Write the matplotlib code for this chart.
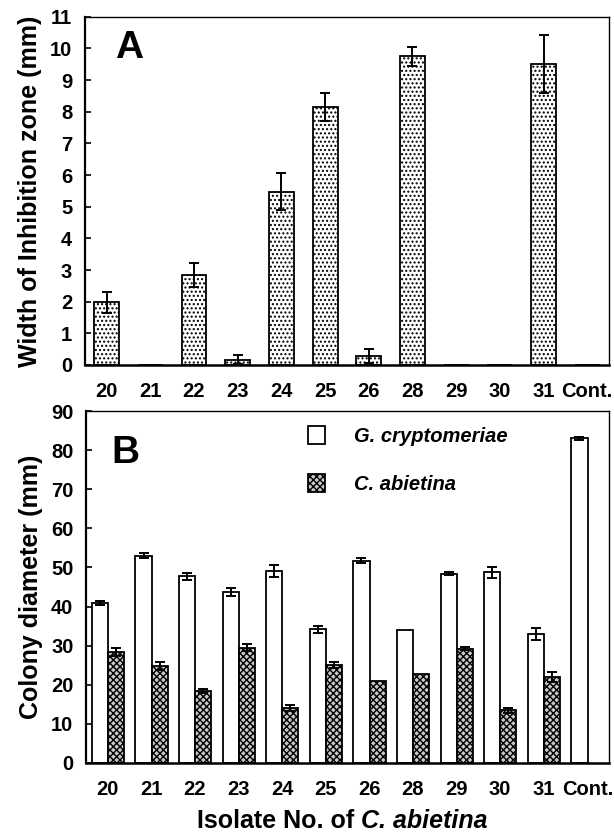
import numpy as np
import matplotlib
matplotlib.use("Agg")
import matplotlib.pyplot as plt
from matplotlib.patches import Patch

plt.rcParams['font.family'] = ['Liberation Sans', 'DejaVu Sans']
plt.rcParams['font.weight'] = 'bold'
plt.rcParams['hatch.linewidth'] = 1.0

# ---- data ----
categories = ['20', '21', '22', '23', '24', '25', '26', '28', '29', '30', '31', 'Cont.']

inhibition = [1.98, 0, 2.84, 0.17, 5.48, 8.15, 0.29, 9.75, 0, 0, 9.52, 0]
inhibition_err = [0.33, 0, 0.39, 0.15, 0.60, 0.45, 0.23, 0.30, 0, 0, 0.92, 0]

g_crypt = [40.8, 53.0, 47.7, 43.8, 49.0, 34.2, 51.7, 34.0, 48.4, 48.8, 32.9, 83.0]
g_crypt_err = [0.5, 0.6, 0.9, 1.0, 1.5, 0.9, 0.6, 0, 0.4, 1.4, 1.5, 0.3]

c_abiet = [28.3, 24.9, 18.4, 29.5, 14.0, 25.0, 21.0, 22.7, 29.2, 13.5, 22.0]
c_abiet_err = [1.0, 1.0, 0.4, 0.8, 0.8, 0.8, 0, 0, 0.4, 0.6, 1.3]

yticks_a = list(range(0, 12))
yticks_b = list(range(0, 100, 10))

# ---- figure ----
fig = plt.figure(figsize=(6.14, 8.39), dpi=100)
axA = fig.add_axes([0.138, 0.565, 0.854, 0.415])
axB = fig.add_axes([0.140, 0.0906, 0.852, 0.4195])

x = np.arange(len(categories))
gray = '#c8c8c8'

# Panel A
axA.bar(x, inhibition, width=0.57, facecolor='white', edgecolor='black',
        linewidth=1.3, hatch='....')
idx = [i for i, e in enumerate(inhibition_err) if e > 0]
axA.errorbar(x[idx], [inhibition[i] for i in idx], yerr=[inhibition_err[i] for i in idx],
             fmt='none', ecolor='black', elinewidth=1.4, capsize=3.5, capthick=1.4)
axA.set_xlim(-0.5, len(categories) - 0.5)
axA.set_ylim(0, 11)
axA.set_yticks(yticks_a)
axA.set_xticks(x)
axA.set_xticklabels(categories)
axA.set_ylabel('Width of Inhibition zone (mm)', fontsize=18, fontweight='bold', labelpad=6)
axA.text(0.058, 0.91, 'A', transform=axA.transAxes, fontsize=28, fontweight='bold',
         ha='left', va='center')

# Panel B
w = 0.37
xb = x - 0.18
axB.bar(xb, g_crypt, width=w, facecolor='white', edgecolor='black', linewidth=1.3)
n_ca = len(c_abiet)
axB.bar(x[:n_ca] + 0.19, c_abiet, width=w, facecolor=gray, edgecolor='black',
        linewidth=1.3, hatch='xxxxx')
idx = [i for i, e in enumerate(g_crypt_err) if e > 0]
axB.errorbar(xb[idx], [g_crypt[i] for i in idx], yerr=[g_crypt_err[i] for i in idx],
             fmt='none', ecolor='black', elinewidth=1.4, capsize=3.5, capthick=1.4)
idx = [i for i, e in enumerate(c_abiet_err) if e > 0]
axB.errorbar(x[idx] + 0.19, [c_abiet[i] for i in idx], yerr=[c_abiet_err[i] for i in idx],
             fmt='none', ecolor='black', elinewidth=1.4, capsize=3.5, capthick=1.4)
axB.set_xlim(-0.5, len(categories) - 0.5)
axB.set_ylim(0, 90)
axB.set_yticks(yticks_b)
axB.set_xticks(x)
axB.set_xticklabels(categories)
axB.set_ylabel('Colony diameter (mm)', fontsize=18, fontweight='bold', labelpad=6)
axB.text(0.048, 0.88, 'B', transform=axB.transAxes, fontsize=28, fontweight='bold',
         ha='left', va='center')

handles = [Patch(facecolor='white', edgecolor='black', linewidth=1.3),
           Patch(facecolor=gray, edgecolor='black', linewidth=1.3, hatch='xxxxx')]
axB.legend(handles, ['G. cryptomeriae', 'C. abietina'], loc='upper left',
           bbox_to_anchor=(0.425, 0.957), frameon=False, borderpad=0, borderaxespad=0,
           handlelength=0.85, handleheight=1.0, handletextpad=1.4, labelspacing=1.4,
           prop={'family': 'Liberation Sans', 'style': 'italic', 'weight': 'bold', 'size': 14.5})

for ax in (axA, axB):
    for s in ax.spines.values():
        s.set_linewidth(1.0)
    ax.spines['left'].set_linewidth(1.6)
    ax.spines['bottom'].set_linewidth(1.8)
    ax.tick_params(axis='y', direction='in', length=4, width=1.2, pad=9, labelsize=14.5)
    ax.tick_params(axis='x', length=0, pad=12, labelsize=14.5)
    for lab in ax.get_xticklabels() + ax.get_yticklabels():
        lab.set_fontweight('bold')

# x label with mixed roman / italic parts, centred under panel B
renderer = fig.canvas.get_renderer()
ylab = 0.022
t1 = fig.text(0, ylab, 'Isolate No. of ', fontsize=18, fontweight='bold', ha='left', va='center')
t2 = fig.text(0, ylab, 'C. abietina', fontsize=18, fontweight='bold', style='italic',
              ha='left', va='center')
w1 = t1.get_window_extent(renderer).width / fig.bbox.width
w2 = t2.get_window_extent(renderer).width / fig.bbox.width
pos = axB.get_position()
cx = (pos.x0 + pos.x1) / 2 - 0.008
start = cx - (w1 + w2) / 2
t1.set_x(start)
t2.set_x(start + w1)

fig.savefig('out.png', dpi=100)
